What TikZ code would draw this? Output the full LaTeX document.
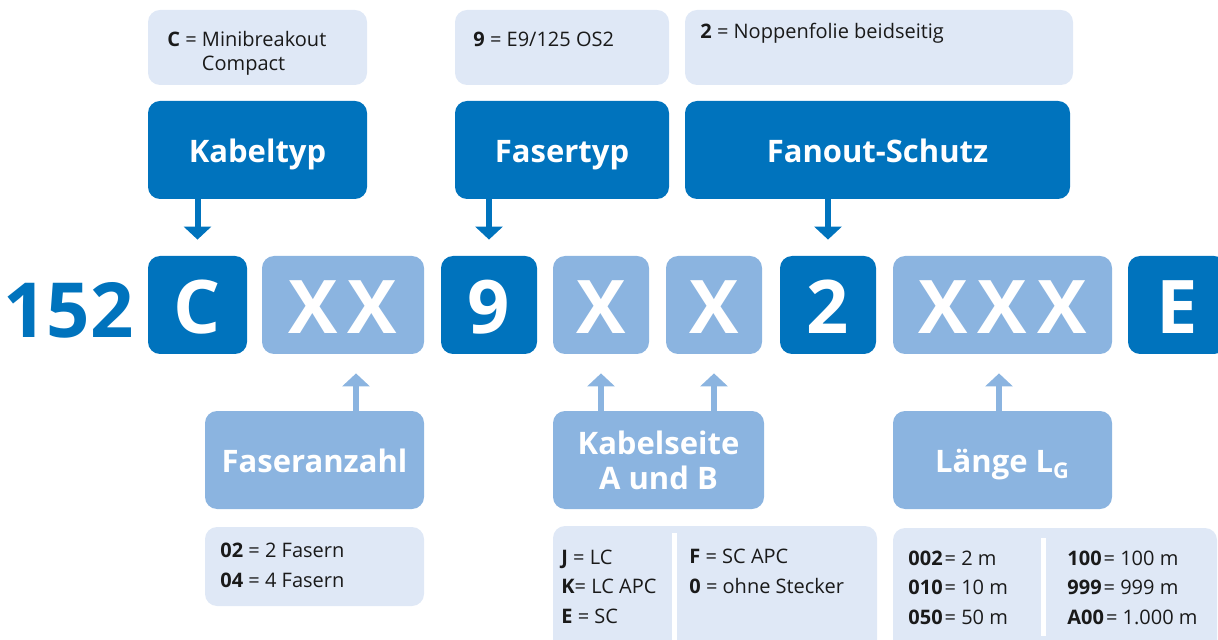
\documentclass[tikz,border=0pt]{standalone}
\usepackage{fontspec}
\setmainfont{Open Sans}
\usepackage{tikz}
\usetikzlibrary{arrows.meta, positioning}
\definecolor{mydark}{RGB}{0,115,189}
\definecolor{mylight}{RGB}{139,180,224}
\definecolor{mypale}{RGB}{223,232,246}
\definecolor{mytext}{RGB}{26,26,26}
\tikzstyle{codedark} = [rectangle, rounded corners=6pt, fill=mydark, text=white, font=\fontsize{37}{40}\selectfont\bfseries, minimum height=49pt, inner sep=0pt, text height=29pt, text depth=0pt]
\tikzstyle{codelight} = [codedark, fill=mylight]
\tikzstyle{headdark} = [rectangle, rounded corners=6pt, fill=mydark, text=white, font=\fontsize{15.5}{17.5}\selectfont\bfseries, minimum height=49pt, align=center, inner sep=0pt]
\tikzstyle{headlight} = [headdark, fill=mylight]
\tikzstyle{oneline} = [text height=12.5pt, text depth=0pt]
\tikzstyle{infobox} = [rectangle, rounded corners=6pt, fill=mypale, inner sep=0pt]
\tikzstyle{infotext} = [text=mytext, font=\fontsize{10}{14.75}\selectfont, align=left, anchor=base west, inner sep=0pt]
\tikzstyle{sepline} = [white, line width=2.5pt]
\tikzstyle{darrow} = [mydark, line width=3pt, -{Triangle[width=13.5pt,length=6.5pt]}, shorten >=8pt]
\tikzstyle{larrow} = [darrow, mylight, shorten >=9.5pt]

\begin{document}
\begin{tikzpicture}[x=0.5pt, y=-0.5pt]
    \useasboundingbox (0,0) rectangle (1218,640);
    % top info boxes
    \node (iC) [infobox, minimum width=109.5pt, minimum height=37.5pt] at (257.5,47.5) {};
    \node (i9) [infobox, minimum width=107pt, minimum height=37.5pt] at (562,47.5) {};
    \node (i2) [infobox, minimum width=194pt, minimum height=37.5pt] at (879,47.5) {};
    \node (tC) [infotext, font=\fontsize{10}{12}\selectfont] at (167,71) {\textbf{C} = Minibreakout\\\phantom{\textbf{C} = }Compact};
    \node (t9) [infotext] at (473,47) {\textbf{9} = E9/125 OS2};
    \node (t2) [infotext] at (700,39) {\textbf{2} = Noppenfolie beidseitig};
    % headings
    \node (hKabel) [headdark, oneline, minimum width=109.5pt] at (257.5,150) {Kabeltyp};
    \node (hFaser) [headdark, oneline, minimum width=107pt] at (562,150) {Fasertyp};
    \node (hFanout) [headdark, oneline, minimum width=192.5pt] at (877.5,150) {Fanout-Schutz};
    % code row
    \node (pre) [text=mydark, font=\fontsize{38}{40}\selectfont\bfseries, inner sep=0pt, text height=27.2pt, text depth=0pt, anchor=east] at (134,310.5) {152};
    \node (c) [codedark, minimum width=49.5pt] at (197.5,305) {C};
    \node (xx) [codelight, minimum width=81pt] at (343,305) {X\kern5pt X};
    \node (nine) [codedark, minimum width=48pt] at (489,305) {9};
    \node (xa) [codelight, minimum width=48pt] at (601,305) {X};
    \node (xb) [codelight, minimum width=48pt] at (714,305) {X};
    \node (two) [codedark, minimum width=48pt] at (828,305) {2};
    \node (xxx) [codelight, minimum width=109.5pt] at (1002.5,305) {X\kern5pt X\kern5pt X};
    \node (e) [codedark, minimum width=49pt] at (1177,305) {E};
    % lower headings
    \node (bFaser) [headlight, oneline, minimum width=109.5pt] at (314.5,460) {Faseranzahl};
    \node (bSeite) [headlight, minimum width=105.5pt, minimum height=49pt] at (658.5,460) {Kabelseite\\A und B};
    \node (bLaenge) [headlight, oneline, minimum width=109.5pt] at (1002.5,460) {Länge L\textsubscript{G}};
    % lower info boxes
    \node (jFaser) [infobox, minimum width=109.5pt, minimum height=39.5pt] at (314.5,566.5) {};
    \node (jSeite) [infobox, minimum width=162pt, minimum height=67pt] at (715,593) {};
    \node (jLaenge) [infobox, minimum width=162pt, minimum height=66pt] at (1055,594) {};
    \draw [sepline] (674.5,533) -- (674.5,648);
    \draw [sepline] (1043.5,538) -- (1043.5,636);
    \node (uFaser) [infotext] at (220,587) {\textbf{02} = 2 Fasern\\\textbf{04} = 4 Fasern};
    \node (uSeiteA) [infotext] at (561,623) {\textbf{J} = LC\\\textbf{K}= LC APC\\\textbf{E} = SC};
    \node (uSeiteB) [infotext] at (689,593) {\textbf{F} = SC APC\\\textbf{0} = ohne Stecker};
    \node (uLaengeA) [infotext] at (908,624) {\textbf{002}\kern1pt= 2 m\\\textbf{010}\kern1pt= 10 m\\\textbf{050}\kern1pt= 50 m};
    \node (uLaengeB) [infotext] at (1067,624) {\textbf{100}\kern1pt= 100 m\\\textbf{999}\kern1pt= 999 m\\\textbf{A00}\kern1pt= 1.000 m};
    % arrows
    \draw [darrow] (hKabel.south -| c.north) -- (c.north);
    \draw [darrow] (hFaser.south -| nine.north) -- (nine.north);
    \draw [darrow] (hFanout.south -| two.north) -- (two.north);
    \draw [larrow] ([xshift=6.5pt]bFaser.north -| xx.south) -- ([xshift=6.5pt]xx.south);
    \draw [larrow] (bSeite.north -| xa.south) -- (xa.south);
    \draw [larrow] (bSeite.north -| xb.south) -- (xb.south);
    \draw [larrow] ([xshift=-1.75pt]bLaenge.north -| xxx.south) -- ([xshift=-1.75pt]xxx.south);
\end{tikzpicture}
\end{document}
